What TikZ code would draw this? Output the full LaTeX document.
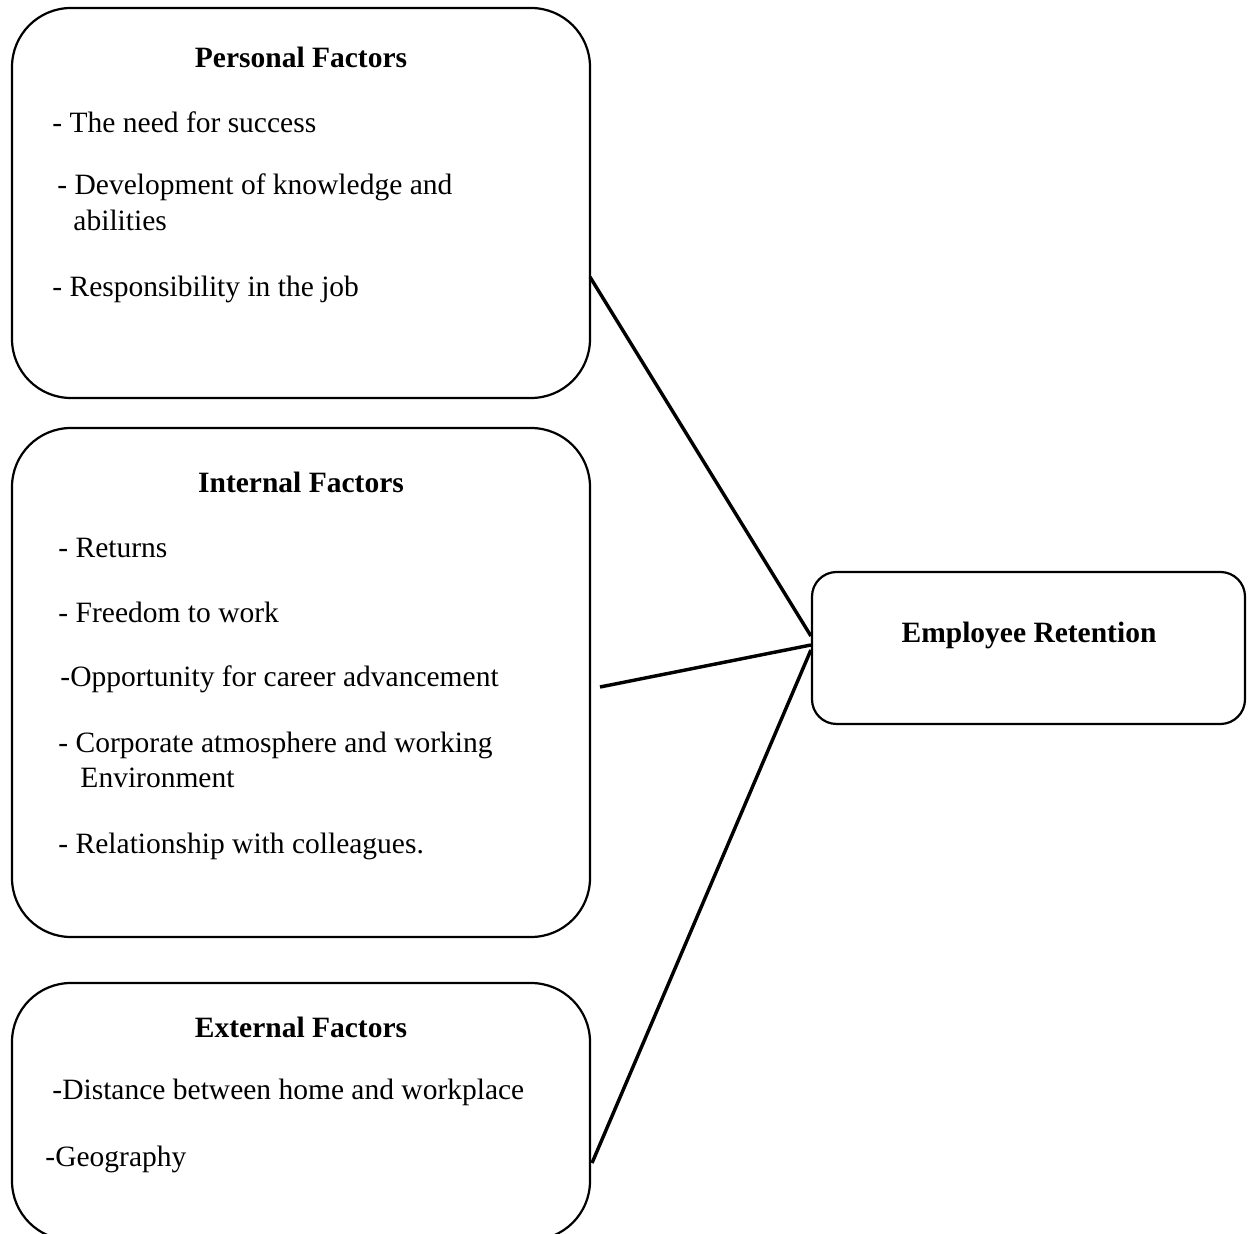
\documentclass[tikz,border=0pt]{standalone}
\usepackage{fontspec}
\setmainfont{Liberation Serif}
\usetikzlibrary{fit,calc}
\tikzset{
  factorbox/.style={draw, line width=0.9pt, rounded corners=24pt, inner sep=0pt},
  resultbox/.style={draw, line width=0.9pt, rounded corners=10pt, inner sep=0pt},
  heading/.style={font=\fontsize{12}{14}\selectfont\bfseries, inner sep=0pt},
  item/.style={font=\fontsize{12}{14}\selectfont, anchor=west, inner sep=0pt},
  link/.style={line width=1.4pt}
}
\begin{document}
\begin{tikzpicture}[x=0.0143cm,y=-0.0143cm]
\clip (0,0) rectangle (1252,1234);
%draw boxes
\node[factorbox, fit={(12,8) (590,398)}] (personal) {};
\node[factorbox, fit={(12,428) (590,937)}] (internal) {};
\node[factorbox, fit={(12,983) (590,1240)}] (external) {};
\node[resultbox, fit={(812,572) (1245,724)}] (retention) {};
%personal factors
\node[heading] (ptitle) at (301,57) {Personal Factors};
\node[item] (p1) at (52,122) {- The need for success};
\node[item] (p2) at (57,187) {- Development of knowledge and};
\node[item] (p2b) at (73,220) {abilities};
\node[item] (p3) at (52,289) {- Responsibility in the job};
%internal factors
\node[heading] (ititle) at (301,482) {Internal Factors};
\node[item] (i1) at (58,548) {- Returns};
\node[item] (i2) at (58,612) {- Freedom to work};
\node[item] (i3) at (60,679) {-Opportunity for career advancement};
\node[item] (i4) at (58,745) {- Corporate atmosphere and working};
\node[item] (i4b) at (80,778) {Environment};
\node[item] (i5) at (58,846) {- Relationship with colleagues.};
%external factors
\node[heading] (etitle) at (301,1027) {External Factors};
\node[item] (e1) at (52,1092) {-Distance between home and workplace};
\node[item] (e2) at (45,1159) {-Geography};
%result
\node[heading] (rtitle) at (1029,635) {Employee Retention};
%draw links
\coordinate (pout) at (590,277);
\coordinate (iout) at (600,687);
\coordinate (eout) at (592,1163);
\draw[link] (pout) -- ($(retention.west)+(0,-12)$);
\draw[link] (iout) -- ($(retention.west)+(0,-3)$);
\draw[link] (eout) -- ($(retention.west)+(0,2)$);
\end{tikzpicture}
\end{document}
